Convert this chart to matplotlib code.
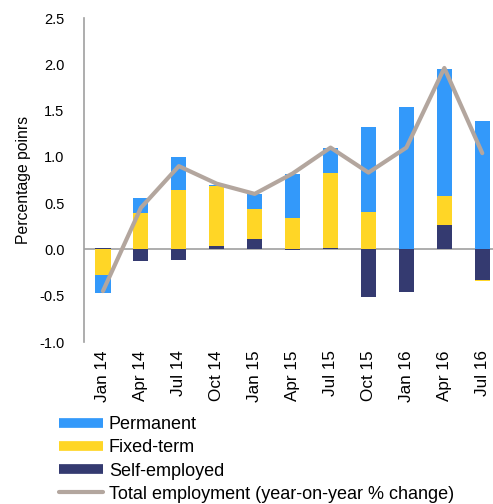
import matplotlib.pyplot as plt
from matplotlib.lines import Line2D
import numpy as np

plt.rcParams['font.family'] = ['Liberation Sans', 'DejaVu Sans']

# Datos
categorias = ['Jan 14', 'Apr 14', 'Jul 14', 'Oct 14', 'Jan 15', 'Apr 15',
              'Jul 15', 'Oct 15', 'Jan 16', 'Apr 16', 'Jul 16']
self_employed = [0.02, -0.12, -0.11, 0.035, 0.11, -0.01, 0.015, -0.51, -0.46, 0.26, -0.33]
fixed_term = [-0.28, 0.39, 0.645, 0.65, 0.325, 0.34, 0.815, 0.40, 0.0, 0.32, -0.012]
permanent = [-0.19, 0.17, 0.355, 0.01, 0.165, 0.47, 0.27, 0.92, 1.54, 1.37, 1.39]
total = [-0.45, 0.45, 0.90, 0.71, 0.60, 0.82, 1.10, 0.83, 1.10, 1.96, 1.04]

c_perm = '#3399fa'
c_fixed = '#ffd626'
c_self = '#343a70'
c_total = '#b3a69e'

fig = plt.figure(figsize=(4.93, 5.04), dpi=100)
ax = fig.add_axes([84 / 493, 1 - 342 / 504, 409 / 493, 324 / 504])

x = np.arange(len(categorias))
pos = np.zeros(len(x))
neg = np.zeros(len(x))
# apilar: autonomos primero, luego temporales, luego indefinidos
for vals, col in [(self_employed, c_self), (fixed_term, c_fixed), (permanent, c_perm)]:
    v = np.array(vals)
    base = np.where(v >= 0, pos, neg)
    ax.bar(x, v, 0.4, bottom=base, color=col, zorder=2)
    pos = pos + np.where(v >= 0, v, 0)
    neg = neg + np.where(v < 0, v, 0)

ax.plot(x, total, color=c_total, lw=3, zorder=3, solid_capstyle='round')
ax.axhline(0, color='#a0a0a0', lw=1.2, zorder=1)

ax.set_xlim(-0.5, -0.5 + 409 / 37.93)
ax.set_ylim(-1.0, 2.5)
ax.set_yticks(np.arange(-1.0, 2.51, 0.5))
ax.set_yticklabels([f'{t:.1f}' for t in np.arange(-1.0, 2.51, 0.5)], fontsize=10.5)
ax.set_xticks(x)
ax.set_xticklabels(categorias, rotation=90, fontsize=12.3)
ax.tick_params(axis='x', length=0, pad=6)
ax.tick_params(axis='y', length=0, pad=14)
ax.set_ylabel('Percentage poinrs', fontsize=11.3, labelpad=6)

for s in ['top', 'right', 'bottom']:
    ax.spines[s].set_visible(False)
ax.spines['left'].set_color('#a0a0a0')
ax.spines['left'].set_linewidth(1.2)

handles = [Line2D([], [], color=c_perm, lw=7, solid_capstyle='butt'),
           Line2D([], [], color=c_fixed, lw=7, solid_capstyle='butt'),
           Line2D([], [], color=c_self, lw=7, solid_capstyle='butt'),
           Line2D([], [], color=c_total, lw=3, solid_capstyle='round')]
labels = ['Permanent', 'Fixed-term', 'Self-employed', 'Total employment (year-on-year % change)']
fig.legend(handles, labels, loc='upper left', bbox_to_anchor=(52 / 493, 1 - 409 / 504),
           frameon=False, fontsize=13.0, handlelength=2.45, handletextpad=0.3,
           labelspacing=0.34, borderaxespad=0)

fig.savefig('out.png', dpi=100)
